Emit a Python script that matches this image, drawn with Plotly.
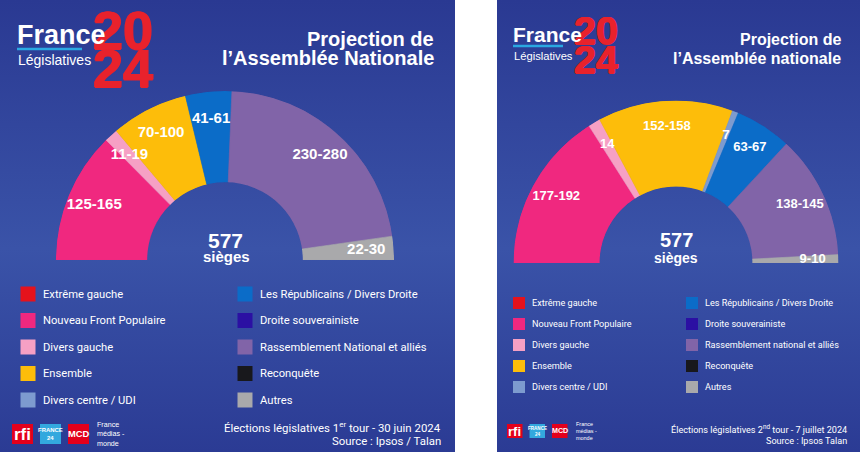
import plotly.graph_objects as go

# ---------------- DATA ----------------
TOTAL_SEATS = 577

# Round 1 projection (ranges; bars drawn with range midpoints)
r1_parties = ["Nouveau Front Populaire", "Divers gauche", "Ensemble",
              "Les Républicains / Divers Droite", "Rassemblement National et alliés", "Autres"]
r1_low = [125, 11, 70, 41, 230, 22]
r1_high = [165, 19, 100, 61, 280, 30]
r1_labels = ["125-165", "11-19", "70-100", "41-61", "230-280", "22-30"]

# Round 2 projection
r2_parties = ["Nouveau Front Populaire", "Divers gauche", "Ensemble", "Divers centre / UDI",
              "Les Républicains / Divers Droite", "Rassemblement National et alliés", "Autres"]
r2_low = [177, 14, 152, 7, 63, 138, 9]
r2_high = [192, 14, 158, 7, 67, 145, 10]
r2_labels = ["177-192", "14", "152-158", "7", "63-67", "138-145", "9-10"]

legend_col1 = ["Extrême gauche", "Nouveau Front Populaire", "Divers gauche", "Ensemble", "Divers centre / UDI"]
legend_col2 = ["Les Républicains / Divers Droite", "Droite souverainiste",
               "Rassemblement National et alliés", "Reconquête", "Autres"]

# ---------------- STYLE ----------------
COLORS = {
    "Extrême gauche": "#e5121c",
    "Nouveau Front Populaire": "#f0287f",
    "Divers gauche": "#f6a0c4",
    "Ensemble": "#fdbd0a",
    "Divers centre / UDI": "#7d9bcf",
    "Les Républicains / Divers Droite": "#0b6cc8",
    "Droite souverainiste": "#2b10a3",
    "Rassemblement National et alliés": "#8164a8",
    "Reconquête": "#18181c",
    "Autres": "#a9a9ab",
}
W, H = 860, 452
BOLD = "Liberation Sans, Arial, sans-serif"
NARROW = "Roboto, Liberation Sans, sans-serif"
BG_SCALE = [[0, "#2a3992"], [0.55, "#3a53a8"], [1, "#2b3b94"]]
RED = "#e8222c"

fig = go.Figure()

# background panels (gradient)
for x0, x1 in [(0, 455), (497, 860)]:
    fig.add_trace(go.Scatter(
        x=[x0, x1, x1, x0, x0], y=[0, 0, H, H, 0], mode="lines", fill="toself",
        line=dict(width=0), hoverinfo="skip", showlegend=False,
        fillgradient=dict(type="vertical", colorscale=BG_SCALE, start=0, stop=H),
        xaxis="x", yaxis="y"))

# faint decorative lines
deco = [
    (0, 178, 15, 178), (15, 178, 15, 130), (15, 130, 45, 95),
    (0, 262, 60, 228), (290, 250, 290, 353), (290, 353, 455, 353),
    (732, 250, 732, 364), (732, 364, 860, 364), (497, 230, 545, 205),
]
for x0, y0, x1, y1 in deco:
    fig.add_shape(type="line", x0=x0, y0=y0, x1=x1, y1=y1, xref="x", yref="y",
                  line=dict(color="rgba(255,255,255,0.10)", width=1.5), layer="below")
fig.add_shape(type="rect", x0=290, y0=170, x1=455, y1=353, xref="x", yref="y",
              line=dict(width=0), fillcolor="rgba(255,255,255,0.03)", layer="below")


def hemicycle(parties, low, high, labels, subplot, font_size):
    seats = [(a + b) / 2 for a, b in zip(low, high)]
    total = sum(seats)
    spans = [s / total * 180 for s in seats]
    mids, cum = [], 0.0
    for sp in spans:
        mids.append(180 - cum - sp / 2)
        cum += sp
    cols = [COLORS[p] for p in parties]
    fig.add_trace(go.Barpolar(
        r=[1] * len(seats), theta=mids, width=spans, marker=dict(color=cols, line=dict(color=cols, width=0.6)),
        subplot=subplot, showlegend=False, hovertext=parties, hoverinfo="text"))
    fig.add_trace(go.Scatterpolar(
        r=[0.7] * len(seats), theta=mids, text=labels, mode="text", subplot=subplot,
        textfont=dict(color="white", size=font_size, family=BOLD, weight="bold"),
        showlegend=False, hoverinfo="skip"))


hemicycle(r1_parties, r1_low, r1_high, r1_labels, "polar", 15)
hemicycle(r2_parties, r2_low, r2_high, r2_labels, "polar2", 13)

polar_common = dict(sector=[0, 180], bgcolor="rgba(0,0,0,0)",
                    radialaxis=dict(visible=False, range=[0, 1]),
                    angularaxis=dict(visible=False))
fig.update_layout(
    polar=dict(domain=dict(x=[56 / W, 394 / W], y=[1 - 260 / H, 1 - 91 / H]), hole=0.46, **polar_common),
    polar2=dict(domain=dict(x=[513.5 / W, 838.5 / W], y=[1 - 263 / H, 1 - 100.5 / H]), hole=0.47, **polar_common),
)

ann = []


def text(x, y, s, size, family=BOLD, color="white", xanchor="left", weight="normal", yanchor="middle",
         align="left", shadow="none"):
    ann.append(dict(x=x, y=y, xref="x", yref="y", text=s, showarrow=False, xanchor=xanchor, yanchor=yanchor,
                    align=align, font=dict(size=size, family=family, color=color, weight=weight, shadow=shadow)))


# ---- headers ----
def header(x, digit_right, y20, y24, dsize, fsize, fy, bar_w, bar_y, lsize, ly, right_x, title2, tsize):
    thick = f"0.8px 0 0 {RED}, -0.8px 0 0 {RED}, 0 0.6px 0 {RED}"
    text(digit_right, y20, "20", dsize, color=RED, weight="bold", xanchor="right", shadow=thick)
    text(digit_right, y24, "24", dsize, color=RED, weight="bold", xanchor="right", shadow=thick)
    text(x - 2, fy, "France", fsize, weight="bold")
    fig.add_shape(type="rect", x0=x, x1=x + bar_w, y0=bar_y - 1.2, y1=bar_y + 1.2, xref="x", yref="y",
                  line=dict(width=0), fillcolor="#2aa8e2")
    text(x - 1, ly, "Législatives", lsize, family=BOLD)
    text(right_x, 39, "Projection de", tsize, xanchor="right", weight="bold")
    text(right_x, 58, title2, tsize, xanchor="right", weight="bold")


header(17, 155, 29.5, 67.5, 54, 27, 35, 65, 49, 14, 60, 436, "l’Assemblée Nationale", 20)
header(513, 620, 30, 58.5, 39.5, 21, 34, 50, 46, 11.2, 56, 843, "l’Assemblée nationale", 16)

# ---- center labels ----
text(225, 240, "577", 21, xanchor="center", weight="bold")
text(226, 256, "sièges", 15, xanchor="center", weight="bold")
text(676, 240, "577", 20, xanchor="center", weight="bold")
text(676, 257.5, "sièges", 14, xanchor="center", weight="bold")


# ---- legends ----
def legend(col1, col2, x1, x2, y0, step, msize, fsize, rename=None):
    xs, ys, cs = [], [], []
    for i, name in enumerate(col1):
        xs.append(x1); ys.append(y0 + i * step); cs.append(COLORS[name])
        text(x1 + msize / 2 + 5, y0 + i * step, name, fsize, family=NARROW)
    for i, name in enumerate(col2):
        xs.append(x2); ys.append(y0 + i * step); cs.append(COLORS[name])
        label = rename.get(name, name) if rename else name
        text(x2 + msize / 2 + 5, y0 + i * step, label, fsize, family=NARROW)
    fig.add_trace(go.Scatter(x=xs, y=ys, mode="markers", xaxis="x", yaxis="y", showlegend=False,
                             hoverinfo="skip",
                             marker=dict(symbol="square", size=msize, color=cs, line=dict(width=0))))


legend(legend_col1, legend_col2, 28, 245, 294, 26.5, 15, 11.2)
legend(legend_col1, legend_col2, 519, 692, 303, 21, 12, 9.1,
       rename={"Rassemblement National et alliés": "Rassemblement national et alliés"})

# ---- footers ----
text(443, 427, "Élections législatives 1<sup>er</sup> tour - 30 juin 2024", 11.4, family=NARROW, xanchor="right")
text(443, 441, "Source : Ipsos / Talan", 11.4, family=NARROW, xanchor="right")
text(849, 429, "Élections législatives 2<sup>nd</sup> tour - 7 juillet 2024", 9.1, family=NARROW, xanchor="right")
text(849, 441, "Source : Ipsos Talan", 9.1, family=NARROW, xanchor="right")


# ---- logos ----
def logos(x, y0, y1, w, gap, fs):
    boxes = [("rfi", "#e3001b", fs), ("FRANCE<br>24", "#33a8de", fs * 0.35), ("MCD", "#e3001b", fs * 0.55)]
    for i, (lab, col, s) in enumerate(boxes):
        bx = x + i * (w + gap)
        fig.add_shape(type="rect", x0=bx, x1=bx + w, y0=y0, y1=y1, xref="x", yref="y",
                      line=dict(width=0), fillcolor=col)
        text(bx + w / 2, (y0 + y1) / 2, lab, s, xanchor="center", weight="bold", align="center")
    text(x + 3 * (w + gap) - 1, (y0 + y1) / 2, "France<br>médias -<br>monde", fs * 0.42, align="left")


logos(12, 424, 444, 21, 7, 17)
logos(507, 424, 438, 15.5, 7, 13)

fig.update_layout(
    width=W, height=H, margin=dict(l=0, r=0, t=0, b=0), paper_bgcolor="white", plot_bgcolor="rgba(0,0,0,0)",
    xaxis=dict(range=[0, W], visible=False, domain=[0, 1], fixedrange=True),
    yaxis=dict(range=[H, 0], visible=False, domain=[0, 1], fixedrange=True),
    annotations=ann, showlegend=False,
)

fig.write_html("out.html", config={"displayModeBar": False},
               post_script="document.body.style.margin='0';document.body.style.overflow='hidden';")
